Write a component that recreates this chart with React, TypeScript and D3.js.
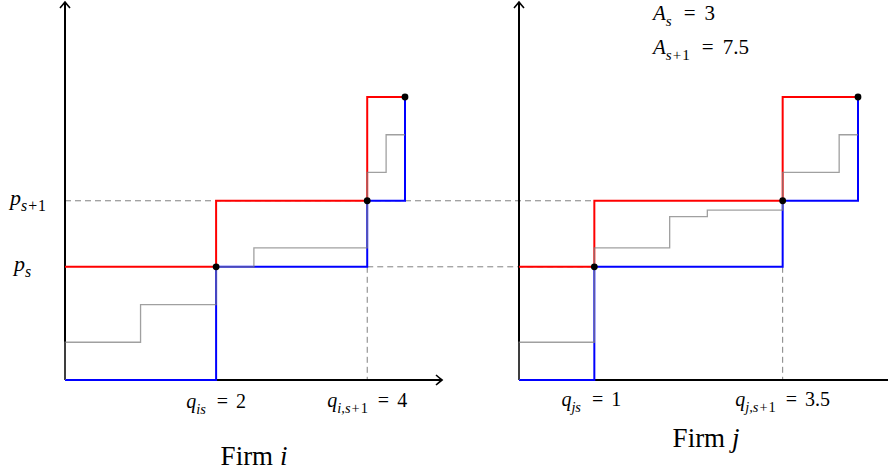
import React from "react";
import * as d3 from "d3";

const W = 888;
const H = 475;

// price levels
const pS = 3;
const pS1 = 4.75;
const pTop = 7.5;

// firm i quantities
const qIs = 2;
const qIs1 = 4;
const qIMax = 4.5;
// firm i grey step curve
const greyIQ = [0, 0, 1, 1, 2, 2, 2.5, 2.5, 4, 4, 4.25, 4.25, 4.5];
const greyIP = [0, 1, 1, 2, 2, 3, 3, 3.5, 3.5, 5.5, 5.5, 6.5, 6.5];

// firm j quantities
const qJs = 1;
const qJs1 = 3.5;
const qJMax = 4.5;
const greyJQ = [0, 0, 1, 1, 2, 2, 2.5, 2.5, 3.5, 3.5, 4.25, 4.25, 4.5];
const greyJP = [0, 1, 1, 3.5, 3.5, 4.33, 4.33, 4.5, 4.5, 5.5, 5.5, 6.5, 6.5];

const FONT = "Liberation Serif";

const y = d3.scaleLinear().domain([0, pTop]).range([380, 97]);
const xI = d3.scaleLinear().domain([0, qIMax]).range([65, 405]);
const xJ = d3.scaleLinear().domain([0, qJMax]).range([519, 858]);

type Pt = [number, number];

function redPts(qs: number, qs1: number, qmax: number): Pt[] {
  return [[0, pS], [qs, pS], [qs, pS1], [qs1, pS1], [qs1, pTop], [qmax, pTop]];
}
function bluePts(qs: number, qs1: number, qmax: number): Pt[] {
  return [[0, 0], [qs, 0], [qs, pS], [qs1, pS], [qs1, pS1], [qmax, pS1], [qmax, pTop]];
}

// sub: list of [text, italic, dx]; value shown after a spaced "="
function MathText(props: {
  x: number; y: number; size: number; anchor?: string;
  base: string; sub?: [string, boolean, number][]; value?: string;
  gapL?: number; gapR?: number;
}) {
  const { x, y: ty, size, anchor, base, sub, value } = props;
  const gapL = props.gapL ?? 9;
  const gapR = props.gapR ?? 7;
  const dy = size * 0.28;
  return (
    <text x={x} y={ty} fontSize={size} fontFamily={FONT} textAnchor={anchor || "start"} fill="#000">
      <tspan fontStyle="italic">{base}</tspan>
      {sub && sub.map(([t, it, ddx], i) => (
        <tspan key={i} fontStyle={it ? "italic" : "normal"} fontSize={size * 0.72}
          dy={i === 0 ? dy : 0} dx={ddx}>{t}</tspan>
      ))}
      {value && <tspan dy={sub ? -dy : 0} dx={gapL}>=</tspan>}
      {value && <tspan dx={gapR}>{value}</tspan>}
    </text>
  );
}

function Panel(props: {
  x: d3.ScaleLinear<number, number>;
  qs: number; qs1: number; qmax: number;
  gq: number[]; gp: number[];
}) {
  const { x, qs, qs1, qmax, gq, gp } = props;
  const line = d3.line<Pt>().x((d) => x(d[0])).y((d) => y(d[1]));
  const grey: Pt[] = gq.map((q, i) => [q, gp[i]]);
  const dots: Pt[] = [[qs, pS], [qs1, pS1], [qmax, pTop]];
  return (
    <g>
      <path d={line(bluePts(qs, qs1, qmax)) || ""} fill="none" stroke="#0000ff" strokeWidth={2} />
      <path d={line(redPts(qs, qs1, qmax)) || ""} fill="none" stroke="#ff0000" strokeWidth={2} />
      <path d={line(grey) || ""} fill="none" stroke="#808080" strokeOpacity={0.75} strokeWidth={1.3} />
      {dots.map((d, i) => (
        <circle key={i} cx={x(d[0])} cy={y(d[1])} r={3.4} fill="#000" />
      ))}
    </g>
  );
}

function arrowUp(cx: number, tip: number) {
  return `M${cx - 5},${tip + 6} Q${cx - 1.5},${tip + 2} ${cx},${tip} Q${cx + 1.5},${tip + 2} ${cx + 5},${tip + 6}`;
}
function arrowRight(tip: number, cy: number) {
  return `M${tip - 6},${cy - 5} Q${tip - 2},${cy - 1.5} ${tip},${cy} Q${tip - 2},${cy + 1.5} ${tip - 6},${cy + 5}`;
}

export default function App() {
  const dash = "6,4";
  const x0I = xI(0);
  const x0J = xJ(0);
  const sPlus1: [string, boolean, number][] = [["s", true, 0], ["+", false, 1], ["1", false, 1]];
  return (
    <svg width={W} height={H} style={{ position: "absolute", left: 0, top: 0, background: "#fff" }}>
      {/* dashed guides */}
      <g stroke="#808080" strokeWidth={1} strokeDasharray={dash} fill="none">
        <line x1={x0I} x2={xJ(qJs)} y1={y(pS1)} y2={y(pS1)} />
        <line x1={xI(qIs1)} x2={xJ(qJs)} y1={y(pS)} y2={y(pS)} />
        <line x1={xI(qIs1)} x2={xI(qIs1)} y1={y(pS)} y2={y(0)} />
        <line x1={xJ(qJs1)} x2={xJ(qJs1)} y1={y(pS)} y2={y(0)} />
      </g>

      {/* axes */}
      <g stroke="#000" strokeWidth={2} fill="none">
        <line x1={x0I} x2={x0I} y1={y(0)} y2={3} />
        <path d={arrowUp(x0I, 2)} strokeWidth={1.6} />
        <line x1={x0I} x2={441} y1={y(0)} y2={y(0)} />
        <path d={arrowRight(442, y(0))} strokeWidth={1.6} />
        <line x1={x0J} x2={x0J} y1={y(0)} y2={3} />
        <path d={arrowUp(x0J, 2)} strokeWidth={1.6} />
        <line x1={x0J} x2={W} y1={y(0)} y2={y(0)} />
      </g>

      <Panel x={xI} qs={qIs} qs1={qIs1} qmax={qIMax} gq={greyIQ} gp={greyIP} />
      <Panel x={xJ} qs={qJs} qs1={qJs1} qmax={qJMax} gq={greyJQ} gp={greyJP} />

      {/* price labels */}
      <MathText x={10} y={y(pS1) + 4} size={22} base="p" sub={sPlus1} />
      <MathText x={14} y={y(pS) + 4} size={22} base="p" sub={[["s", true, 0]]} />

      {/* quantity labels */}
      <MathText x={xI(qIs)} y={408} size={20} anchor="middle" base="q" sub={[["is", true, 0]]} value="2" gapL={11} gapR={8} />
      <MathText x={xI(qIs1)} y={407} size={20} anchor="middle" base="q" sub={[["i,s", true, 0], ["+", false, 1], ["1", false, 1]]} value="4" gapL={10} gapR={8} />
      <MathText x={xJ(qJs) - 3} y={406} size={20} anchor="middle" base="q" sub={[["js", true, 0]]} value="1" gapL={11} gapR={8} />
      <MathText x={xJ(qJs1)} y={406} size={20} anchor="middle" base="q" sub={[["j,s", true, 0], ["+", false, 1], ["1", false, 1]]} value="3.5" gapL={10} gapR={8} />

      {/* A labels */}
      <MathText x={653} y={20} size={21} base="A" sub={[["s", true, 0]]} value="3" gapL={12} gapR={9} />
      <MathText x={653} y={54} size={21} base="A" sub={sPlus1} value="7.5" gapL={12} gapR={9} />

      {/* firm titles */}
      <text x={254} y={465} fontSize={27} fontFamily={FONT} textAnchor="middle">
        Firm <tspan fontStyle="italic">i</tspan>
      </text>
      <text x={706} y={447} fontSize={27} fontFamily={FONT} textAnchor="middle">
        Firm <tspan fontStyle="italic">j</tspan>
      </text>
    </svg>
  );
}
